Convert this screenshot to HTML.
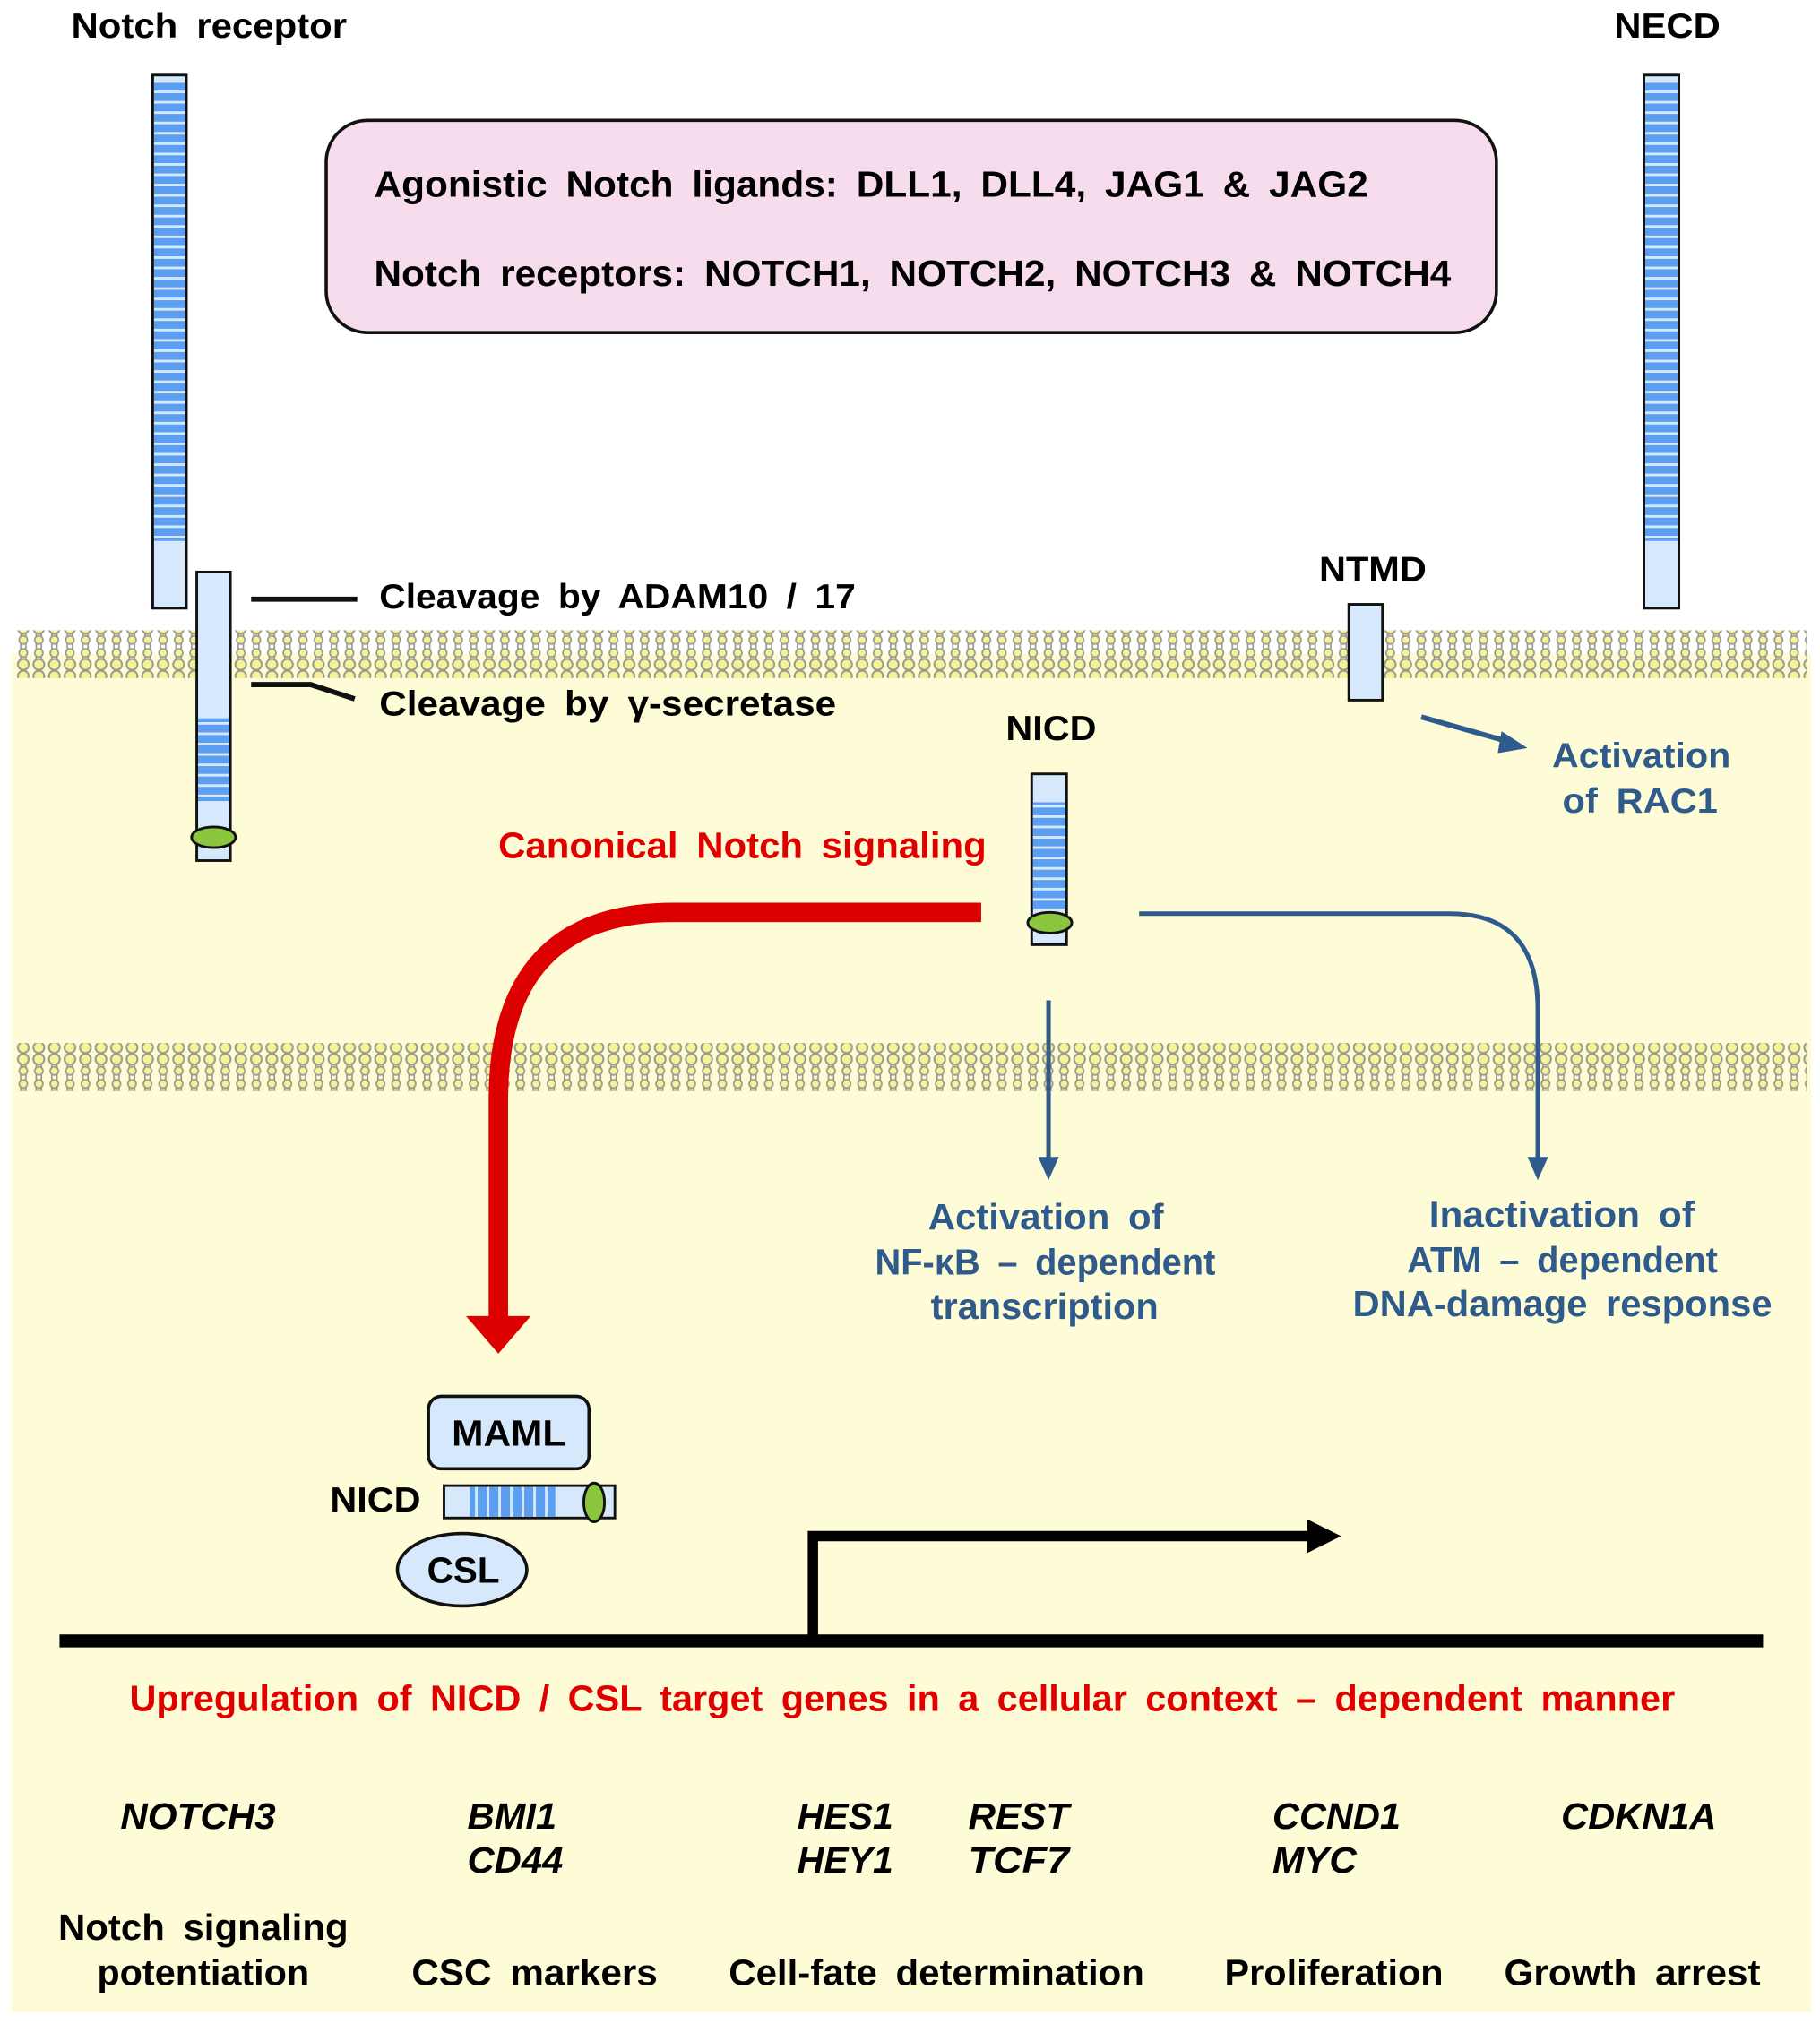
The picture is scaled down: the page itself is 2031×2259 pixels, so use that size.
<!DOCTYPE html>
<html><head><meta charset="utf-8"><style>
html,body{margin:0;padding:0;background:#fff;}
svg{display:block;}
text{font-family:"Liberation Sans",Arial,sans-serif;font-weight:bold;word-spacing:6px;}
</style></head><body>
<svg width="2031" height="2259" viewBox="0 0 1406 1564" preserveAspectRatio="none" xmlns="http://www.w3.org/2000/svg">
<defs>
<pattern id="lip" x="12" y="0" width="12" height="37" patternUnits="userSpaceOnUse">
<path d="M4 6 L4 31 M8 6 L8 31" stroke="#9a9a8a" stroke-width="1.2"/>
<circle cx="6" cy="4.5" r="4.2" fill="#f6f29c" stroke="#9a9a8a" stroke-width="1.4"/>
<circle cx="6" cy="13.5" r="3.2" fill="#f6f29c" stroke="#9a9a8a" stroke-width="1.2"/>
<circle cx="6" cy="23.5" r="3.2" fill="#f6f29c" stroke="#9a9a8a" stroke-width="1.2"/>
<circle cx="6" cy="32.5" r="4.2" fill="#f6f29c" stroke="#9a9a8a" stroke-width="1.4"/>
</pattern>
<pattern id="strV" x="0" y="0" width="40" height="8" patternUnits="userSpaceOnUse">
<rect width="40" height="8" fill="#5b9ef2"/><rect y="6" width="40" height="2" fill="#d6e8fb"/>
</pattern>
<pattern id="strH" x="0" y="0" width="9" height="40" patternUnits="userSpaceOnUse">
<rect width="9" height="40" fill="#5b9ef2"/><rect x="7" width="2" height="40" fill="#d6e8fb"/>
</pattern>
</defs>
<rect x="9" y="505" width="1390" height="1050" fill="#fdfcd6"/>
<rect x="12" y="487" width="1384" height="37" fill="url(#lip)"/>
<rect x="12" y="806" width="1384" height="37" fill="url(#lip)"/>

<g lengthAdjust="spacingAndGlyphs">
<!-- pink box -->
<rect x="252" y="93" width="904" height="164" rx="32" fill="#f6dcec" stroke="#111" stroke-width="2.5"/>
<text x="289" y="152" font-size="28" textLength="768" lengthAdjust="spacingAndGlyphs">Agonistic  Notch  ligands:  DLL1,  DLL4,  JAG1  &amp;  JAG2</text>
<text x="289" y="221" font-size="28" textLength="832" lengthAdjust="spacingAndGlyphs">Notch  receptors:  NOTCH1,  NOTCH2,  NOTCH3  &amp;  NOTCH4</text>

<!-- receptors -->
<text x="55" y="29" font-size="27" textLength="213" lengthAdjust="spacingAndGlyphs">Notch  receptor</text>
<rect x="118" y="58" width="26" height="412" fill="#d6e8fb" stroke="#111" stroke-width="2"/>
<rect x="119" y="62" width="24" height="356" fill="url(#strV)"/>
<text x="1247" y="29" font-size="27" textLength="82" lengthAdjust="spacingAndGlyphs">NECD</text>
<rect x="1270" y="58" width="27" height="412" fill="#d6e8fb" stroke="#111" stroke-width="2"/>
<rect x="1271" y="62" width="25" height="356" fill="url(#strV)"/>

<rect x="152" y="442" width="26" height="223" fill="#d6e8fb" stroke="#111" stroke-width="2"/>
<rect x="153" y="555" width="24" height="64" fill="url(#strV)"/>
<ellipse cx="165" cy="647" rx="17" ry="8" fill="#8cc63f" stroke="#111" stroke-width="2"/>
<line x1="194" y1="463" x2="276" y2="463" stroke="#111" stroke-width="4"/>
<polyline points="194,529 240,529 274,540" fill="none" stroke="#111" stroke-width="4"/>
<text x="293" y="470" font-size="27" textLength="368" lengthAdjust="spacingAndGlyphs">Cleavage  by  ADAM10 / 17</text>
<text x="293" y="553" font-size="27" textLength="353" lengthAdjust="spacingAndGlyphs">Cleavage  by  γ-secretase</text>

<text x="1019" y="449" font-size="27" textLength="83" lengthAdjust="spacingAndGlyphs">NTMD</text>
<rect x="1042" y="467" width="26" height="74" fill="#d6e8fb" stroke="#111" stroke-width="2"/>
<line x1="1098" y1="554" x2="1165" y2="573" stroke="#2f5b8c" stroke-width="4"/>
<polygon points="1180,578 1160,565 1157,582" fill="#2f5b8c"/>
<text x="1199" y="593" font-size="27" fill="#2f5b8c" textLength="138" lengthAdjust="spacingAndGlyphs">Activation</text>
<text x="1207" y="628" font-size="27" fill="#2f5b8c" textLength="120" lengthAdjust="spacingAndGlyphs">of  RAC1</text>

<!-- NICD -->
<text x="777" y="572" font-size="27" textLength="70" lengthAdjust="spacingAndGlyphs">NICD</text>
<rect x="797" y="598" width="27" height="132" fill="#d6e8fb" stroke="#111" stroke-width="2"/>
<rect x="798" y="620" width="25" height="82" fill="url(#strV)"/>
<ellipse cx="811" cy="713" rx="17" ry="8" fill="#8cc63f" stroke="#111" stroke-width="2"/>

<text x="385" y="663" font-size="28" fill="#e00000" textLength="377" lengthAdjust="spacingAndGlyphs">Canonical  Notch  signaling</text>
<path d="M758 705 L520 705 Q385 705 385 850 L385 1018" fill="none" stroke="#dd0000" stroke-width="15"/>
<polygon points="360,1017 410,1017 385,1046" fill="#dd0000"/>

<line x1="810" y1="773" x2="810" y2="896" stroke="#2f5b8c" stroke-width="3.5"/>
<polygon points="802,894 818,894 810,912" fill="#2f5b8c"/>
<path d="M880 706 L1120 706 Q1188 706 1188 780 L1188 896" fill="none" stroke="#2f5b8c" stroke-width="3.5"/>
<polygon points="1180,894 1196,894 1188,912" fill="#2f5b8c"/>
<g font-size="28" fill="#2f5b8c">
<text x="717" y="950" textLength="182" lengthAdjust="spacingAndGlyphs">Activation  of</text>
<text x="676" y="985" textLength="263" lengthAdjust="spacingAndGlyphs">NF-κB – dependent</text>
<text x="719" y="1019" textLength="176" lengthAdjust="spacingAndGlyphs">transcription</text>
<text x="1104" y="948" textLength="205" lengthAdjust="spacingAndGlyphs">Inactivation  of</text>
<text x="1087" y="983" textLength="240" lengthAdjust="spacingAndGlyphs">ATM – dependent</text>
<text x="1045" y="1017" textLength="324" lengthAdjust="spacingAndGlyphs">DNA-damage  response</text>
</g>

<!-- complex -->
<rect x="331" y="1079" width="124" height="56" rx="10" fill="#d6e8fb" stroke="#111" stroke-width="2.5"/>
<text x="349" y="1117" font-size="28" textLength="88" lengthAdjust="spacingAndGlyphs">MAML</text>
<text x="255" y="1168" font-size="27" textLength="70" lengthAdjust="spacingAndGlyphs">NICD</text>
<rect x="343" y="1148" width="132" height="25" fill="#d6e8fb" stroke="#111" stroke-width="2"/>
<rect x="363" y="1149" width="66" height="23" fill="url(#strH)"/>
<ellipse cx="459" cy="1161" rx="8" ry="15" fill="#8cc63f" stroke="#111" stroke-width="2"/>
<ellipse cx="357" cy="1213" rx="50" ry="28" fill="#d6e8fb" stroke="#111" stroke-width="2.5"/>
<text x="330" y="1223" font-size="28" textLength="56" lengthAdjust="spacingAndGlyphs">CSL</text>

<!-- DNA -->
<line x1="46" y1="1268" x2="1362" y2="1268" stroke="#000" stroke-width="10"/>
<polyline points="628,1268 628,1187 1012,1187" fill="none" stroke="#000" stroke-width="8"/>
<polygon points="1010,1174 1036,1187 1010,1200" fill="#000"/>

<text x="100" y="1322" font-size="28" fill="#e00000" textLength="1194" lengthAdjust="spacingAndGlyphs">Upregulation  of  NICD / CSL  target  genes  in  a  cellular  context – dependent  manner</text>

<g font-size="28" font-style="italic">
<text x="93" y="1413" textLength="120" lengthAdjust="spacingAndGlyphs">NOTCH3</text>
<text x="361" y="1413" textLength="69" lengthAdjust="spacingAndGlyphs">BMI1</text>
<text x="361" y="1447" textLength="74" lengthAdjust="spacingAndGlyphs">CD44</text>
<text x="616" y="1413" textLength="74" lengthAdjust="spacingAndGlyphs">HES1</text>
<text x="616" y="1447" textLength="74" lengthAdjust="spacingAndGlyphs">HEY1</text>
<text x="748" y="1413" textLength="78" lengthAdjust="spacingAndGlyphs">REST</text>
<text x="748" y="1447" textLength="78" lengthAdjust="spacingAndGlyphs">TCF7</text>
<text x="983" y="1413" textLength="99" lengthAdjust="spacingAndGlyphs">CCND1</text>
<text x="983" y="1447" textLength="65" lengthAdjust="spacingAndGlyphs">MYC</text>
<text x="1206" y="1413" textLength="120" lengthAdjust="spacingAndGlyphs">CDKN1A</text>
</g>
<g font-size="28">
<text x="45" y="1499" textLength="224" lengthAdjust="spacingAndGlyphs">Notch  signaling</text>
<text x="75" y="1534" textLength="164" lengthAdjust="spacingAndGlyphs">potentiation</text>
<text x="318" y="1534" textLength="190" lengthAdjust="spacingAndGlyphs">CSC  markers</text>
<text x="563" y="1534" textLength="321" lengthAdjust="spacingAndGlyphs">Cell-fate  determination</text>
<text x="946" y="1534" textLength="169" lengthAdjust="spacingAndGlyphs">Proliferation</text>
<text x="1162" y="1534" textLength="198" lengthAdjust="spacingAndGlyphs">Growth  arrest</text>
</g>
</g>
</svg>
</body></html>
